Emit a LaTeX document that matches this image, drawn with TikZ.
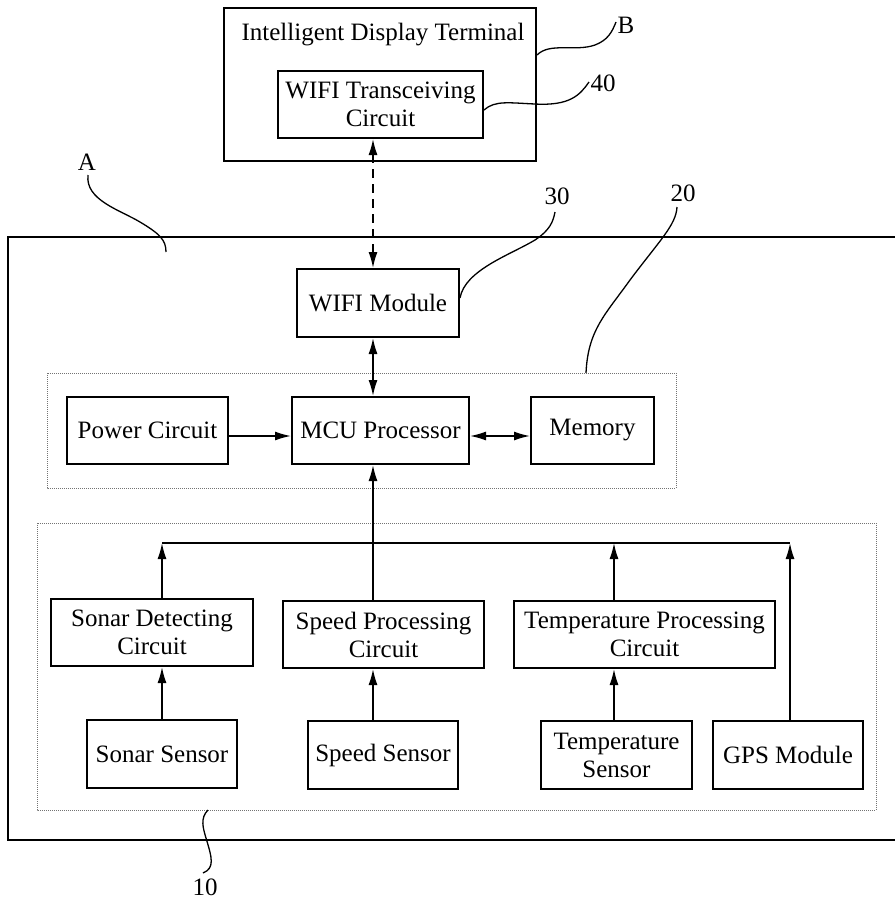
\documentclass[tikz,border=0pt]{standalone}
\usepackage{fontspec}
\setmainfont{Liberation Serif}
\usetikzlibrary{arrows.meta}
\begin{document}
\begin{tikzpicture}[x=1pt,y=-1pt,
  every node/.style={font=\fontsize{25}{28}\selectfont},
  blk/.style={draw, line width=2pt, align=center, inner sep=0pt},
  grp/.style={draw=black!55, densely dotted, line width=1pt},
  conn/.style={line width=1.6pt},
  tip/.style={-{Latex[length=16pt,width=9pt]}},
  dtip/.style={{Latex[length=16pt,width=9pt]}-{Latex[length=16pt,width=9pt]}},
  leader/.style={line width=1.3pt}]
\useasboundingbox (0,0) rectangle (894,899);
% outer boxes
\node[blk, minimum width=312pt, minimum height=153pt] (B) at (380,84.5) {};
\node (Btext) at (383,35) {Intelligent Display Terminal};
\draw[line width=2pt] (900,237) -- (8,237) -- (8,840) -- (900,840);
% groups
\draw[grp] (47,373) rectangle (676,488);
\draw[grp] (37,523) rectangle (876,810);
% blocks
\node[blk, minimum width=205pt, minimum height=67pt] (wt) at (380.5,104.5) {WIFI Transceiving\\Circuit};
\node[blk, minimum width=162pt, minimum height=68pt] (wm) at (378,303) {WIFI Module};
\node[blk, minimum width=161pt, minimum height=67pt] (pc) at (147.5,430.5) {Power Circuit};
\node[blk, minimum width=177pt, minimum height=67pt] (mcu) at (380.5,430.5) {MCU Processor};
\node[blk, minimum width=123pt, minimum height=67pt] (mem) at (592.5,430.5) {Memory};
\node[blk, minimum width=202pt, minimum height=67pt] (sdc) at (152,632.5) {Sonar Detecting\\Circuit};
\node[blk, minimum width=201pt, minimum height=67pt] (spc) at (383.5,634.5) {Speed Processing\\Circuit};
\node[blk, minimum width=261pt, minimum height=67pt] (tpc) at (644.5,634.5) {Temperature Processing\\Circuit};
\node[blk, minimum width=150pt, minimum height=68pt] (ss) at (162,754) {Sonar Sensor};
\node[blk, minimum width=150pt, minimum height=68pt] (sps) at (383,755) {Speed Sensor};
\node[blk, minimum width=151pt, minimum height=68pt] (ts) at (616.5,755) {Temperature\\Sensor};
\node[blk, minimum width=150pt, minimum height=68pt] (gps) at (788,755) {GPS Module};
% x positions of vertical connectors
\coordinate (x1) at (162,0);
\coordinate (x2) at (373,0);
\coordinate (x3) at (614,0);
\coordinate (x4) at (790,0);
\coordinate (busL) at (162,543);
\coordinate (busR) at (790,543);
\coordinate (bus3) at (614,543);
% connectors
\draw[conn, dashed, dash pattern=on 9pt off 6pt, dtip] (wt.south -| x2) -- (wm.north -| x2);
\draw[conn, dtip] (wm.south -| x2) -- (mcu.north -| x2);
\draw[conn, tip] (pc.east |- 0,436) -- (mcu.west |- 0,436);
\draw[conn, dtip] (mcu.east |- 0,436) -- (mem.west |- 0,436);
\draw[conn] (busL) -- (busR);
\draw[conn, tip] (spc.north -| x2) -- (mcu.south -| x2);
\draw[conn, tip] (sdc.north -| x1) -- (busL);
\draw[conn, tip] (tpc.north -| x3) -- (bus3);
\draw[conn, tip] (gps.north -| x4) -- (busR);
\draw[conn, tip] (ss.north -| x1) -- (sdc.south -| x1);
\draw[conn, tip] (sps.north -| x2) -- (spc.south -| x2);
\draw[conn, tip] (ts.north -| x3) -- (tpc.south -| x3);
% reference labels
\node (lB) at (626,25) {B};
\node (l40) at (603,83) {40};
\node (l30) at (557,196) {30};
\node (l20) at (683,193) {20};
\node (lA) at (87,162) {A};
\node (l10) at (205,887) {10};
\draw[leader] (B.east |- 0,55) .. controls (550,42) and (575,52) .. (595,45) .. controls (608,40) and (612,32) .. (616,22);
\draw[leader] (wt.east |- 0,110) .. controls (495,100) and (510,103) .. (535,104) .. controls (570,106) and (580,95) .. (589,82);
\draw[leader] (wm.east |- 0,298) .. controls (465,270) and (510,255) .. (535,240) .. controls (550,230) and (553,222) .. (555,212);
\draw[leader] (586,373) .. controls (588,330) and (605,315) .. (630,280) .. controls (660,240) and (676,225) .. (677,207);
\draw[leader] (88,175) .. controls (85,200) and (120,210) .. (140,222) .. controls (160,234) and (166,240) .. (166,252);
\draw[leader] (208,810) .. controls (200,818) and (203,828) .. (206,838) .. controls (212,858) and (215,868) .. (203,873);
\end{tikzpicture}
\end{document}
